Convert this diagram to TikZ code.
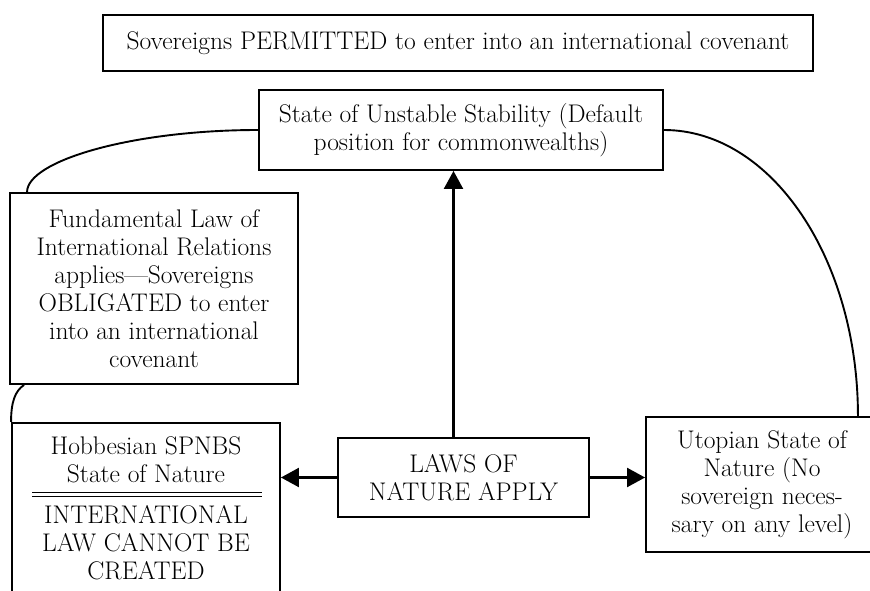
\documentclass[tikz,border=0pt]{standalone}
\usepackage{fontspec}
\usetikzlibrary{arrows.meta}

\begin{document}
\begin{tikzpicture}[x=1pt,y=-1pt,line width=1.9pt,
  box/.style={draw,align=center,inner sep=0pt},
  txt/.style={align=center,inner sep=0pt},
  arr/.style={line width=2.3pt,-{Triangle[length=18pt,width=19pt]}}]
\tikzstyle{every node}+=[font=\fontsize{25.5}{28}\selectfont]
\useasboundingbox (0,0) rectangle (870,591);
\clip (0,0) rectangle (870,591);
% boxes
\node[box,minimum width=710pt,minimum height=56pt] (permit) at (458,43)
  {Sovereigns PERMITTED to enter into an international covenant};
\node[box,minimum width=404pt,minimum height=80pt] (state) at (461,130)
  {State of Unstable Stability (Default\\position for commonwealths)};
\node[box,minimum width=288pt,minimum height=191pt] (fund) at (154,288.5)
  {Fundamental Law of\\International Relations\\applies---Sovereigns\\OBLIGATED to enter\\into an international\\covenant};
\node[box,minimum width=268pt,minimum height=200pt,anchor=north] (hobb) at (146,422) {};
\node[txt] (hobbtop) at (146,460) {Hobbesian SPNBS\\State of Nature};
\node[txt] (hobbbot) at (146,543) {INTERNATIONAL\\LAW CANNOT BE\\CREATED};
\draw[line width=1.1pt] (32,492.5) -- (262,492.5);
\draw[line width=1.1pt] (32,496.5) -- (262,496.5);
\node[box,minimum width=251pt,minimum height=79pt] (laws) at (463.5,477.5)
  {LAWS OF\\NATURE APPLY};
\node[box,minimum width=232pt,minimum height=135pt] (utop) at (762,484.5)
  {Utopian State of\\Nature (No\\sovereign neces-\\sary on any level)};
% connectors
\draw[arr] ([xshift=-10pt]laws.north) -- ([xshift=-10pt]laws.north |- state.south);
\draw[arr] (laws.west) -- (laws.west -| hobb.east);
\draw[arr] (laws.east) -- (laws.east -| utop.west);
\draw (state.west) .. controls +(-127,0) and +(0,-31) .. ([xshift=18pt]fund.north west);
\draw (state.east) .. controls +(107,0) and +(0,-158) .. ([xshift=-21pt]utop.north east);
\draw ([xshift=15pt]fund.south west) .. controls +(-9,6) and +(0,-20) .. (hobb.north west);
\end{tikzpicture}
\end{document}
